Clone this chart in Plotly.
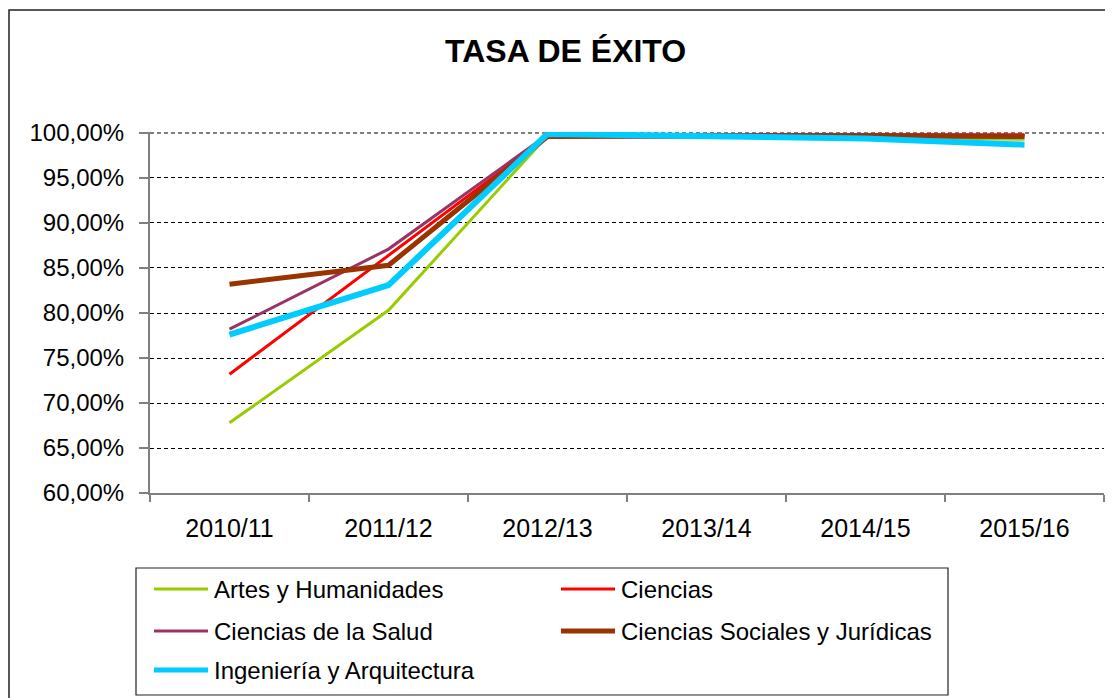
import plotly.graph_objects as go

# ---- data ----
years = ["2010/11", "2011/12", "2012/13", "2013/14", "2014/15", "2015/16"]
series_names = ["Artes y Humanidades", "Ciencias", "Ciencias de la Salud",
                "Ciencias Sociales y Jurídicas", "Ingeniería y Arquitectura"]
artes = [67.8, 80.3, 99.7, 99.8, 99.6, 99.3]
ciencias = [73.2, 86.4, 99.6, 99.8, 99.8, 99.8]
salud = [78.2, 87.1, 99.8, 99.8, 99.8, 99.7]
sociales = [83.2, 85.3, 99.6, 99.7, 99.7, 99.6]
ingenieria = [77.6, 83.1, 99.9, 99.6, 99.4, 98.7]
y_ticks = [60, 65, 70, 75, 80, 85, 90, 95, 100]

values = [artes, ciencias, salud, sociales, ingenieria]
colors = ["#99CC00", "#FF0000", "#993366", "#993300", "#00CCFF"]
widths = [3, 3, 3, 5, 6]

OFF = 8  # page body margin
W, H = 1113 - OFF, 698 - OFF
L, R, T, B = 150, 1104, 132, 493  # page pixel positions of plot area
FONT = "Liberation Sans, Arial, sans-serif"


def px(x):
    return (x - L) / (R - L)


def py(y):
    return (B - y) / (B - T)


fig = go.Figure()
for name, vals, c, w in zip(series_names, values, colors, widths):
    fig.add_trace(go.Scatter(
        x=years, y=[v / 100 for v in vals], name=name, mode="lines",
        line=dict(color=c, width=w), showlegend=False))

shapes = []
annotations = []

# top gridline (edge of the plot area)
shapes.append(dict(type="line", xref="paper", yref="y", x0=0, x1=1,
                   y0=y_ticks[-1] / 100, y1=y_ticks[-1] / 100,
                   line=dict(color="black", width=1, dash="4px,3px"),
                   layer="below"))

# outer chart border
shapes.append(dict(type="rect", xref="paper", yref="paper",
                   x0=px(9), x1=px(1130), y0=py(720), y1=py(10),
                   line=dict(color="#222222", width=1.5), layer="below"))

# legend box
shapes.append(dict(type="rect", xref="paper", yref="paper",
                   x0=px(136), x1=px(948), y0=py(695), y1=py(568),
                   line=dict(color="#222222", width=1.2)))
leg_pos = [(154, 589), (561, 589), (154, 631), (561, 631), (154, 670)]
for (lx, ly), name, c, w in zip(leg_pos, series_names, colors, widths):
    shapes.append(dict(type="line", xref="paper", yref="paper",
                       x0=px(lx), x1=px(lx + 54), y0=py(ly), y1=py(ly),
                       line=dict(color=c, width=min(w, 5))))
    annotations.append(dict(xref="paper", yref="paper", x=px(lx + 58), y=py(ly),
                            text=name, showarrow=False, xanchor="left",
                            yanchor="middle",
                            font=dict(family=FONT, size=24, color="black")))

# title
annotations.append(dict(xref="paper", yref="paper", x=px(565), y=py(51),
                        text="<b>TASA DE ÉXITO</b>", showarrow=False,
                        xanchor="center", yanchor="middle",
                        font=dict(family=FONT, size=32, color="black")))

fig.update_layout(
    width=W, height=H,
    margin=dict(l=L - OFF, r=W - (R - OFF), t=T - OFF, b=H - (B - OFF), pad=0),
    paper_bgcolor="white", plot_bgcolor="white",
    separators=",.",
    font=dict(family=FONT, size=24, color="black"),
    shapes=shapes, annotations=annotations,
    showlegend=False,
)
fig.update_xaxes(
    type="category", range=[-0.5, 5.5], tickson="boundaries",
    ticks="outside", ticklen=7, tickcolor="#808080", tickwidth=1.5,
    showline=True, linecolor="#808080", linewidth=2,
    showgrid=False, zeroline=False, ticklabelstandoff=12,
    tickfont=dict(family=FONT, size=25, color="black"),
)
fig.update_yaxes(
    range=[0.6, 1.0011], tickvals=[v / 100 for v in y_ticks], tickformat=".2%",
    ticks="outside", ticklen=9, tickcolor="#808080", tickwidth=1.5,
    showline=True, linecolor="#808080", linewidth=2,
    showgrid=True, gridcolor="black", gridwidth=1, griddash="4px,3px",
    zeroline=False, ticklabelstandoff=10,
    tickfont=dict(family=FONT, size=24, color="black"),
)

fig.write_html("out.html")
